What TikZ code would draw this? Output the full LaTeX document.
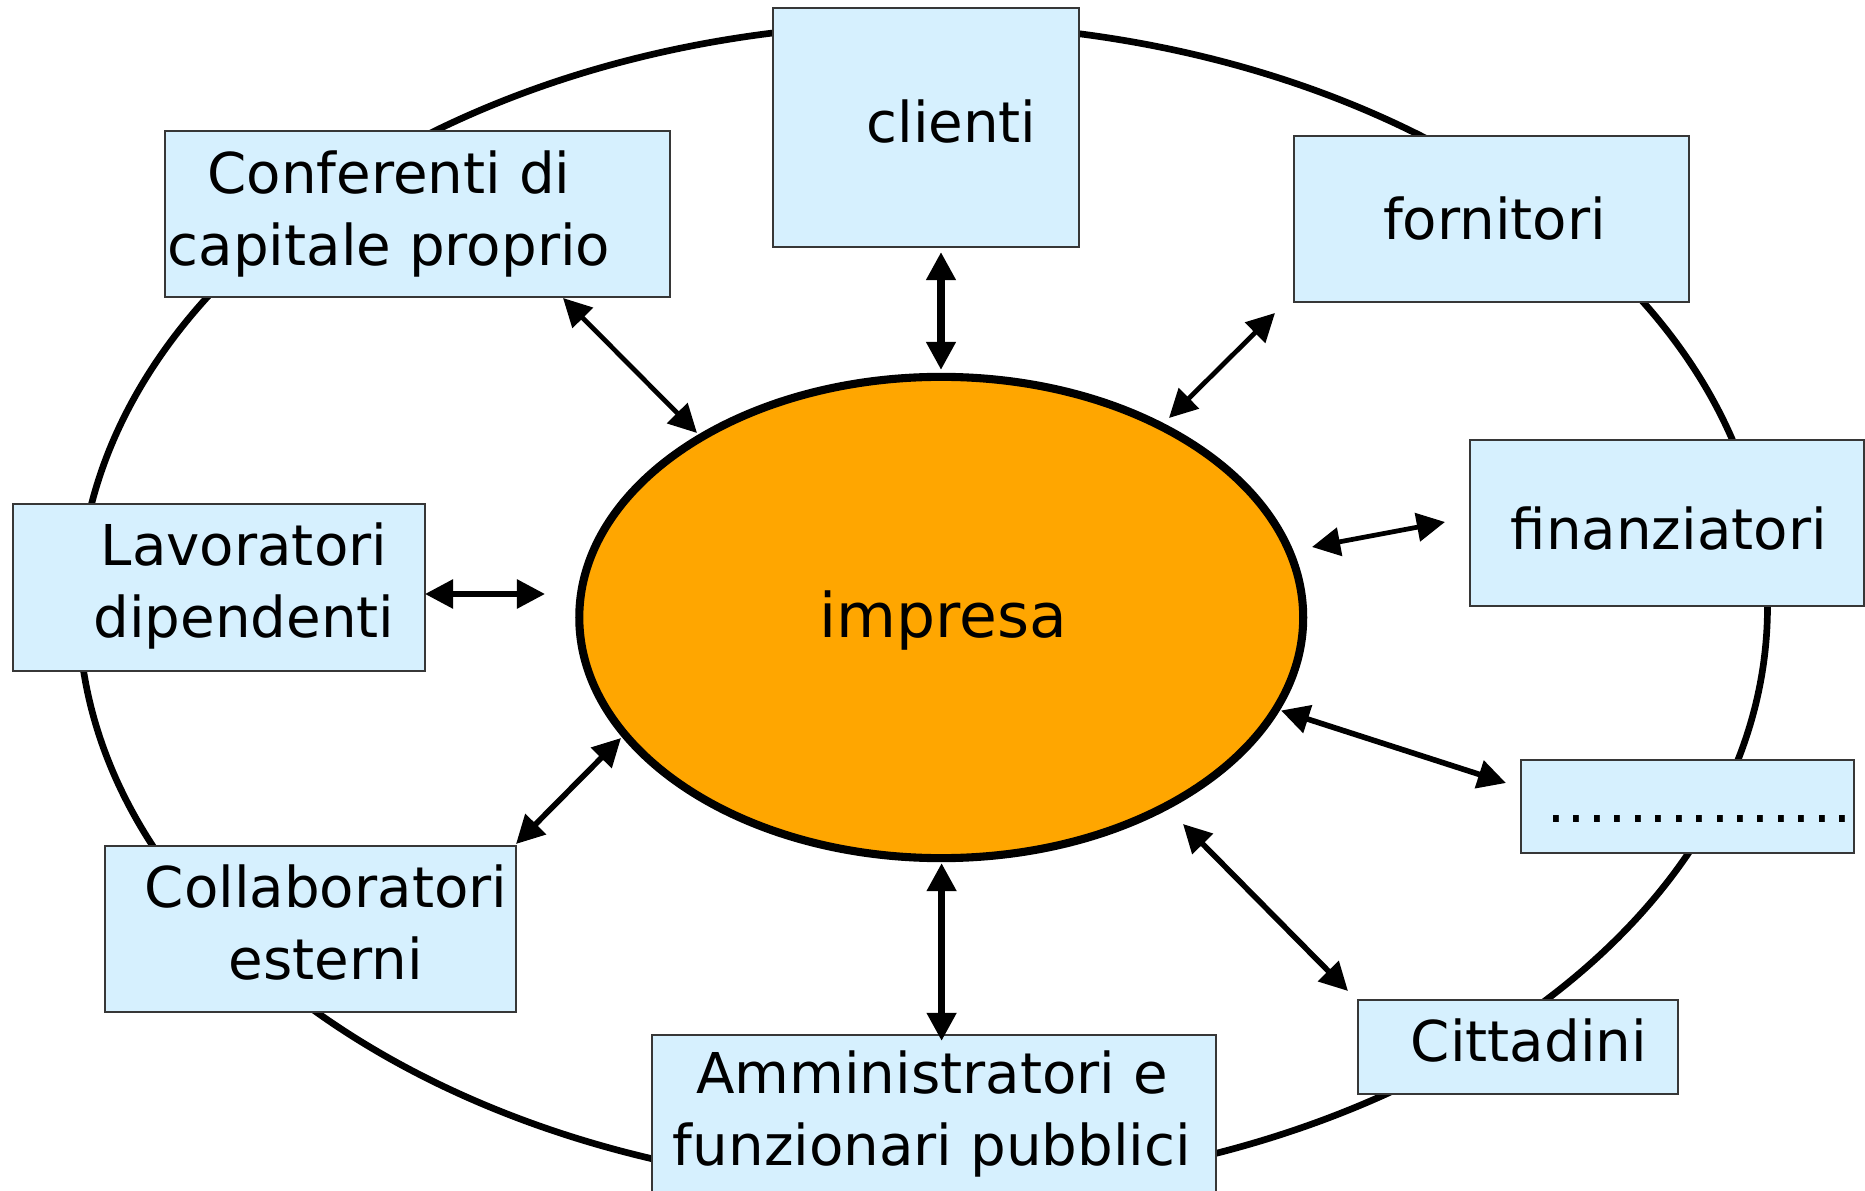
\documentclass[tikz,border=0pt]{standalone}
\usepackage{fontspec}
\setmainfont{DejaVu Sans}
\usetikzlibrary{arrows.meta,shapes.geometric}
\definecolor{boxfill}{RGB}{214,240,254}
\definecolor{boxedge}{RGB}{55,55,55}
\definecolor{impfill}{RGB}{255,166,0}
\begin{document}
\begin{tikzpicture}[x=0.01cm,y=-0.01cm,
  stake/.style={rectangle, draw=boxedge, line width=0.45pt, fill=boxfill, inner sep=0pt},
  lbl/.style={font=\fontsize{16}{20.35}\selectfont, align=center, inner sep=0pt, anchor=base},
  rel/.style={{Triangle[length=8pt,width=8pt]}-{Triangle[length=8pt,width=8pt]}, line width=1.35pt},
  relthick/.style={rel, line width=2pt},
  relmid/.style={rel, line width=1.6pt},
]
\useasboundingbox (0,0) rectangle (1865,1191);
% outer ring
\draw[line width=1.9pt] (923,606.6) ellipse [x radius=844.5, y radius=582.8];
% boxes
\node[stake, minimum width=3.06cm, minimum height=2.39cm] (cl) at (926,127.5) {};
\node[stake, minimum width=5.05cm, minimum height=1.66cm] (conf) at (417.5,214) {};
\node[stake, minimum width=3.95cm, minimum height=1.66cm] (forn) at (1491.5,219) {};
\node[stake, minimum width=3.94cm, minimum height=1.66cm] (fin) at (1667,523) {};
\node[stake, minimum width=3.33cm, minimum height=0.93cm] (dts) at (1687.5,806.5) {};
\node[stake, minimum width=3.20cm, minimum height=0.94cm] (citt) at (1518,1047) {};
\node[stake, minimum width=5.64cm, minimum height=1.65cm] (amm) at (934,1117.5) {};
\node[stake, minimum width=4.11cm, minimum height=1.66cm] (coll) at (310.5,929) {};
\node[stake, minimum width=4.12cm, minimum height=1.67cm] (lav) at (219,587.5) {};
% central ellipse
\node[ellipse, draw, line width=2.3pt, fill=impfill, minimum width=7.235cm, minimum height=4.81cm, inner sep=0pt] (imp) at (941.25,617.5) {};
% texts (anchor base = baseline of last line)
\node[lbl] (tcl) at (951.5,143) {clienti};
\node[lbl] (tconf) at (389,265.3) {Conferenti di\\capitale proprio};
\node[lbl] (tforn) at (1494.5,239.3) {fornitori};
\node[lbl] (tfin) at (1668.7,550) {finanziatori};
\node[lbl] (tdts) at (1699.5,822.7) {\addfontfeature{LetterSpace=4.6}...............};
\node[lbl] (tcitt) at (1529,1061.7) {Cittadini};
\node[lbl] (tamm) at (932,1165) {Amministratori e\\funzionari pubblici};
\node[lbl] (tcoll) at (326,979) {Collaboratori\\esterni};
\node[lbl] (tlav) at (244,637) {Lavoratori\\dipendenti};
\node[lbl, font=\fontsize{17.5}{21}\selectfont] (timp) at (943,637) {impresa};
% arrow end points
\coordinate (cl1) at (941,252);   \coordinate (cl2) at (941,370);
\coordinate (cf1) at (563,298);   \coordinate (cf2) at (697,433);
\coordinate (fo1) at (1275,313);  \coordinate (fo2) at (1169,418);
\coordinate (fi1) at (1445,522);  \coordinate (fi2) at (1312,547);
\coordinate (dt1) at (1506,783);  \coordinate (dt2) at (1281,710.5);
\coordinate (ci1) at (1183,824);  \coordinate (ci2) at (1348,991);
\coordinate (am1) at (941.6,863); \coordinate (am2) at (941.6,1041);
\coordinate (co1) at (621,738);   \coordinate (co2) at (516,844);
\coordinate (la1) at (425,594);   \coordinate (la2) at (545,594);
\draw[relthick] (cl1) -- (cl2);
\draw[rel] (cf1) -- (cf2);
\draw[rel] (fo1) -- (fo2);
\draw[rel] (fi1) -- (fi2);
\draw[relmid] (dt1) -- (dt2);
\draw[relmid] (ci1) -- (ci2);
\draw[relthick] (am1) -- (am2);
\draw[relmid] (co1) -- (co2);
\draw[relmid] (la1) -- (la2);
\end{tikzpicture}
\end{document}
